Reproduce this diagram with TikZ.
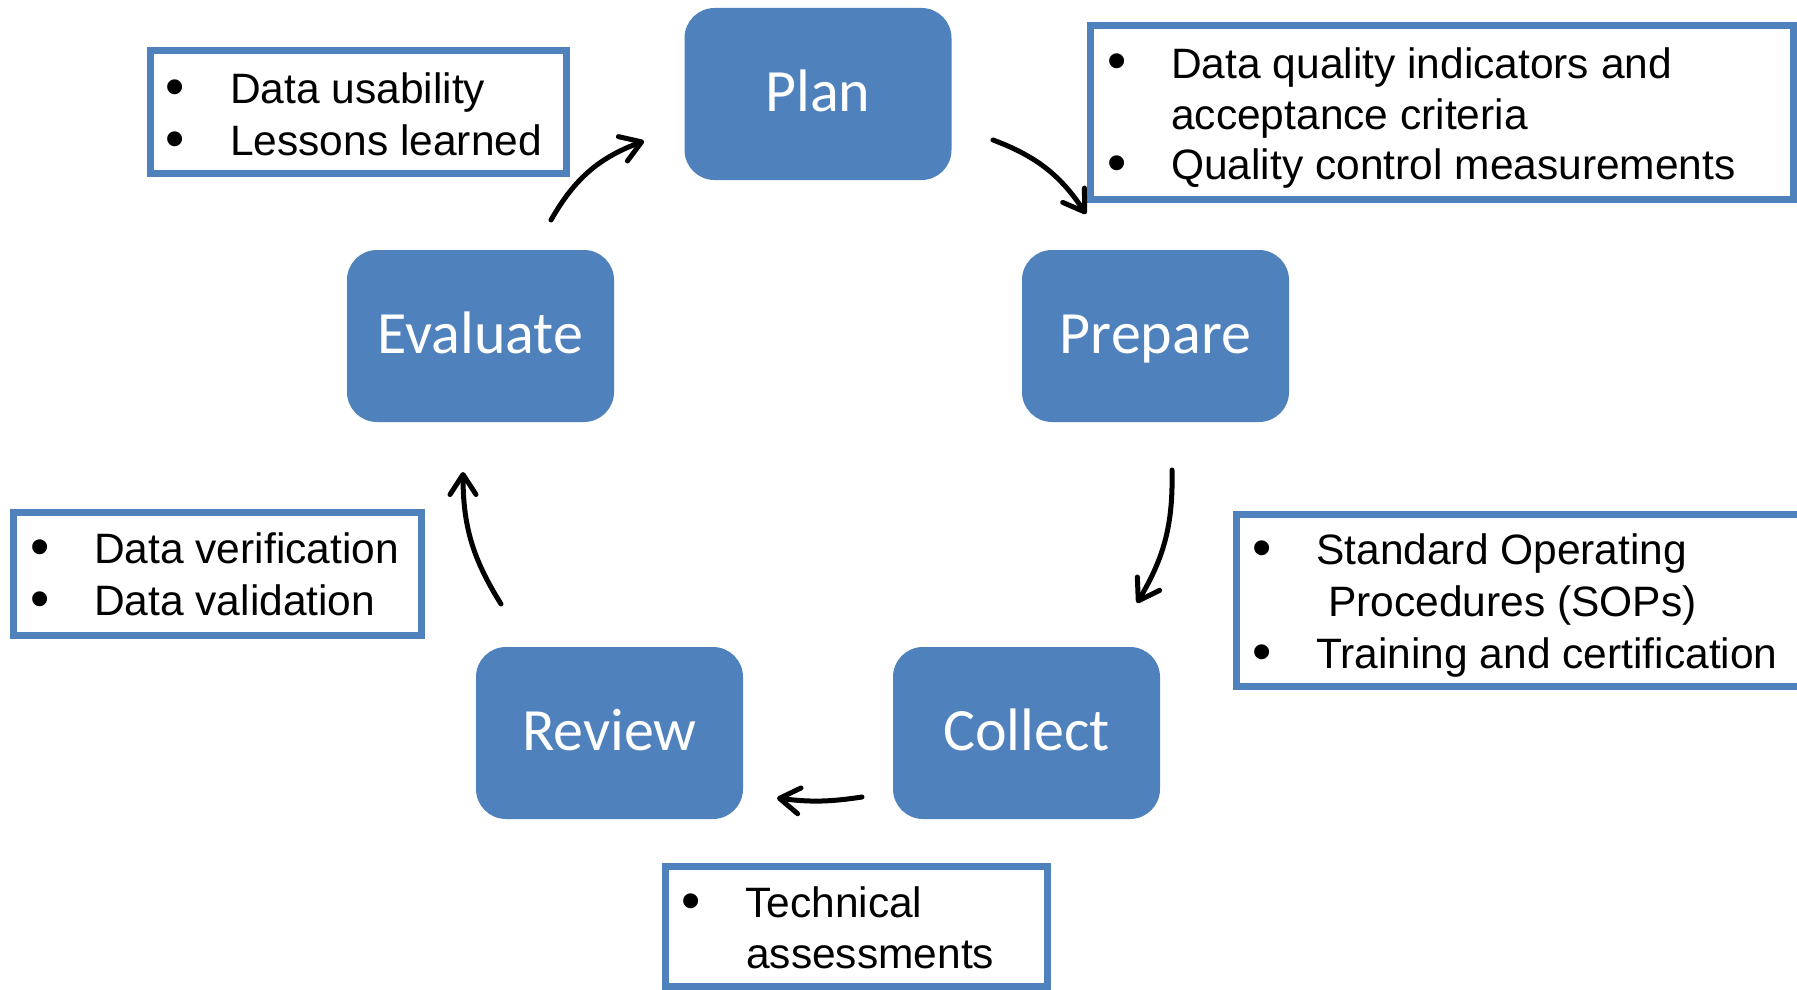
\documentclass[tikz,border=0pt]{standalone}
\usepackage{fontspec}
\setmainfont{Liberation Sans}
\newfontfamily\stagefont{Carlito}
\usetikzlibrary{arrows.meta}
\definecolor{officeblue}{HTML}{4F81BD}
\begin{document}
\begin{tikzpicture}[x=1pt,y=-1pt,
  stage/.style={fill=officeblue, rounded corners=30pt, minimum width=267pt,
    minimum height=172pt, inner sep=0pt, text=white,
    text height=42pt, text depth=8pt,
    font=\stagefont\fontsize{60}{72}\selectfont},
  notebox/.style={draw=officeblue, line width=7pt, inner sep=0pt},
  bul/.style={anchor=base, inner sep=0pt, yshift=-2pt, font=\fontsize{55}{60}\selectfont},
  item/.style={anchor=base west, inner sep=0pt, font=\fontsize{42.5}{51}\selectfont},
  flow/.style={line width=5pt, line cap=round,
    -{Straight Barb[length=20pt,width=26pt,line cap=round,line join=round]}},
]
\clip (0,0) rectangle (1797,990);

% cycle stages
\node[stage] (plan)     at (818,94)     {Plan};
\node[stage] (prepare)  at (1155.5,336) {Prepare};
\node[stage] (collect)  at (1026.5,733) {Collect};
\node[stage] (review)   at (609.5,733)  {Review};
\node[stage] (evaluate) at (480.5,336)  {Evaluate};

% note boxes
\node[notebox, minimum width=416pt, minimum height=123pt] (evalnote)    at (358.5,112)   {};
\node[notebox, minimum width=703pt, minimum height=174pt] (plannote)    at (1442,112.5)  {};
\node[notebox, minimum width=408pt, minimum height=123pt] (reviewnote)  at (217.5,574)   {};
\node[notebox, minimum width=613.5pt, minimum height=172pt] (preparenote) at (1543.25,600.5) {};
\node[notebox, minimum width=382pt, minimum height=120pt] (collectnote) at (856.5,926.5) {};

% evaluate notes
\node[bul]  (en1b) at (175,103) {•};
\node[item] (en1t) at (230,103) {Data usability};
\node[bul]  (en2b) at (175,155) {•};
\node[item] (en2t) at (230,155) {Lessons learned};

% plan notes
\node[bul]  (pn1b) at (1117,78)  {•};
\node[item] (pn1t) at (1171,78)  {Data quality indicators and};
\node[item] (pn1u) at (1171,129) {acceptance criteria};
\node[bul]  (pn2b) at (1117,179) {•};
\node[item] (pn2t) at (1171,179) {Quality control measurements};

% prepare notes
\node[bul]  (rn1b) at (1262,564) {•};
\node[item] (rn1t) at (1316,564) {Standard Operating};
\node[item] (rn1u) at (1328,616) {Procedures (SOPs)};
\node[bul]  (rn2b) at (1262,668) {•};
\node[item] (rn2t) at (1316,668) {Training and certification};

% review notes
\node[bul]  (vn1b) at (40,563) {•};
\node[item] (vn1t) at (94,563) {Data verification};
\node[bul]  (vn2b) at (40,615) {•};
\node[item] (vn2t) at (94,615) {Data validation};

% collect notes
\node[bul]  (cn1b) at (691,917) {•};
\node[item] (cn1t) at (745,917) {Technical};
\node[item] (cn1u) at (746,968) {assessments};

% arrows around the cycle
\coordinate (a1s) at (551,220);  \coordinate (a1e) at (644,141);
\coordinate (a2s) at (993,140);  \coordinate (a2e) at (1086,214);
\coordinate (a3s) at (1172,470); \coordinate (a3e) at (1137,603);
\coordinate (a4s) at (862,797);  \coordinate (a4e) at (777,798);
\coordinate (a5s) at (501,604);  \coordinate (a5e) at (463,472);

\draw[flow] (a1s) to[bend left=20] (a1e);
\draw[flow] (a2s) to[bend left=18] (a2e);
\draw[flow] (a3s) to[bend left=16] (a3e);
\draw[flow] (a4s) to[bend left=8]  (a4e);
\draw[flow] (a5s) to[bend left=16] (a5e);
\end{tikzpicture}
\end{document}
